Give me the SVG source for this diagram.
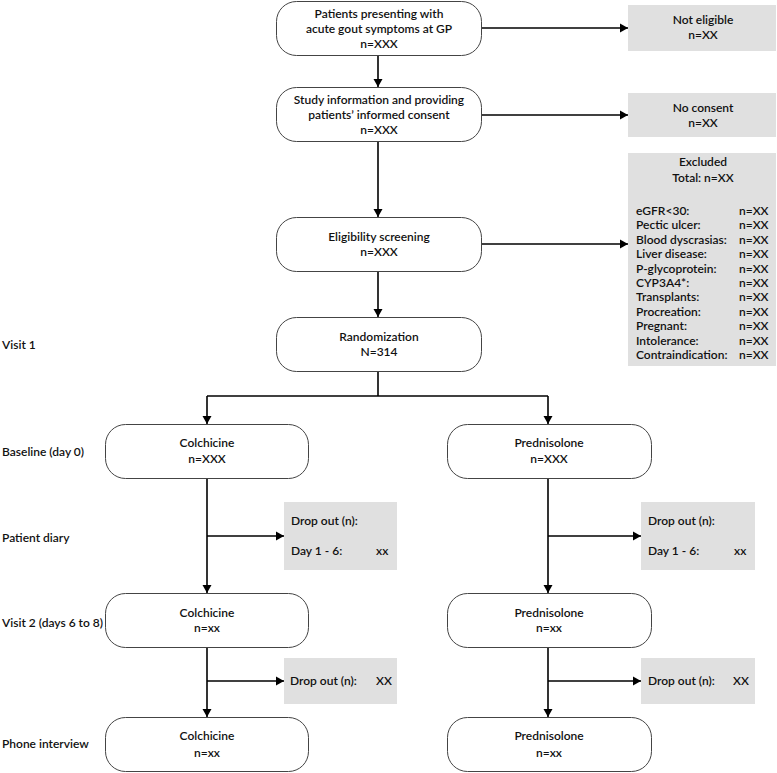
<svg xmlns="http://www.w3.org/2000/svg" width="777" height="773" viewBox="0 0 777 773">
<style>
text{font-family:Lato,"Liberation Sans",sans-serif;font-size:12px;font-weight:600;fill:#111}
.c{text-anchor:middle}
.node{fill:#fff;stroke:#444;stroke-width:1}
.grey{fill:#e0e0e0;stroke:none}
.conn{fill:none;stroke:#000;stroke-width:1.6}
</style>
<defs>
<marker id="ah" markerUnits="userSpaceOnUse" markerWidth="9" markerHeight="10" refX="8" refY="5" orient="auto">
<path d="M0,0.5 L8,5 L0,9.5 z" fill="#000"/>
</marker>
</defs>
<rect width="777" height="773" fill="#fff"/>

<g id="connectors">
<path class="conn" d="M378,55 V87" marker-end="url(#ah)"/>
<path class="conn" d="M481,28 H628" marker-end="url(#ah)"/>
<path class="conn" d="M378,141 V217" marker-end="url(#ah)"/>
<path class="conn" d="M481,115 H628" marker-end="url(#ah)"/>
<path class="conn" d="M481,244 H628" marker-end="url(#ah)"/>
<path class="conn" d="M378,272 V317" marker-end="url(#ah)"/>
<path class="conn" d="M378,372 V396"/>
<path class="conn" d="M207,396 H548"/>
<path class="conn" d="M207,396 V424" marker-end="url(#ah)"/>
<path class="conn" d="M548,396 V424" marker-end="url(#ah)"/>
<path class="conn" d="M207,479 V593" marker-end="url(#ah)"/>
<path class="conn" d="M207,536 H284" marker-end="url(#ah)"/>
<path class="conn" d="M548,479 V593" marker-end="url(#ah)"/>
<path class="conn" d="M548,536 H641" marker-end="url(#ah)"/>
<path class="conn" d="M207,648 V717" marker-end="url(#ah)"/>
<path class="conn" d="M207,681 H284" marker-end="url(#ah)"/>
<path class="conn" d="M548,648 V717" marker-end="url(#ah)"/>
<path class="conn" d="M548,681 H641" marker-end="url(#ah)"/>
</g>

<g id="labels">
<text x="2" y="349">Visit 1</text>
<text x="2" y="456">Baseline (day 0)</text>
<text x="2" y="542">Patient diary</text>
<text x="2" y="627">Visit 2 (days 6 to 8)</text>
<text x="2" y="748">Phone interview</text>
</g>

<g id="patients">
<rect class="node" x="276.5" y="1.5" width="205" height="54" rx="20"/>
<text class="c" x="379" y="18">Patients presenting with</text>
<text class="c" x="379" y="33">acute gout symptoms at GP</text>
<text class="c" x="379" y="48">n=XXX</text>
</g>
<g id="not-eligible">
<rect class="grey" x="628" y="5" width="148" height="46"/>
<text class="c" x="703" y="24">Not eligible</text>
<text class="c" x="703" y="39">n=XX</text>
</g>
<g id="study-info">
<rect class="node" x="276.5" y="87.5" width="205" height="54" rx="20"/>
<text class="c" x="379" y="104">Study information and providing</text>
<text class="c" x="379" y="119">patients’ informed consent</text>
<text class="c" x="379" y="134">n=XXX</text>
</g>
<g id="no-consent">
<rect class="grey" x="628" y="93" width="148" height="44"/>
<text class="c" x="703" y="112">No consent</text>
<text class="c" x="703" y="127">n=XX</text>
</g>
<g id="eligibility">
<rect class="node" x="276.5" y="217.5" width="205" height="54" rx="20"/>
<text class="c" x="379" y="241">Eligibility screening</text>
<text class="c" x="379" y="256">n=XXX</text>
</g>
<g id="excluded">
<rect class="grey" x="628" y="153" width="148" height="213"/>
<text class="c" x="703" y="166">Excluded</text>
<text class="c" x="703" y="182">Total: n=XX</text>
<text x="636" y="215">eGFR&lt;30:</text><text x="739" y="215">n=XX</text>
<text x="636" y="229">Pectic ulcer:</text><text x="739" y="229">n=XX</text>
<text x="636" y="244">Blood dyscrasias:</text><text x="739" y="244">n=XX</text>
<text x="636" y="258">Liver disease:</text><text x="739" y="258">n=XX</text>
<text x="636" y="273">P-glycoprotein:</text><text x="739" y="273">n=XX</text>
<text x="636" y="287">CYP3A4*:</text><text x="739" y="287">n=XX</text>
<text x="636" y="301">Transplants:</text><text x="739" y="301">n=XX</text>
<text x="636" y="316">Procreation:</text><text x="739" y="316">n=XX</text>
<text x="636" y="330">Pregnant:</text><text x="739" y="330">n=XX</text>
<text x="636" y="345">Intolerance:</text><text x="739" y="345">n=XX</text>
<text x="636" y="359">Contraindication:</text><text x="739" y="359">n=XX</text>
</g>
<g id="randomization">
<rect class="node" x="276.5" y="317.5" width="205" height="54" rx="20"/>
<text class="c" x="379" y="341">Randomization</text>
<text class="c" x="379" y="356">N=314</text>
</g>
<g id="colchicine-baseline">
<rect class="node" x="105.5" y="424.5" width="203" height="54" rx="20"/>
<text class="c" x="207" y="447">Colchicine</text>
<text class="c" x="207" y="463">n=XXX</text>
</g>
<g id="prednisolone-baseline">
<rect class="node" x="447.5" y="424.5" width="204" height="54" rx="20"/>
<text class="c" x="549" y="447">Prednisolone</text>
<text class="c" x="549" y="463">n=XXX</text>
</g>
<g id="dropout-colchicine-diary">
<rect class="grey" x="284" y="502" width="113" height="68"/>
<text x="291" y="525">Drop out (n):</text>
<text x="291" y="555">Day 1 - 6:</text>
<text x="376" y="555">xx</text>
</g>
<g id="dropout-prednisolone-diary">
<rect class="grey" x="641" y="502" width="114" height="68"/>
<text x="648" y="525">Drop out (n):</text>
<text x="648" y="555">Day 1 - 6:</text>
<text x="734" y="555">xx</text>
</g>
<g id="colchicine-visit2">
<rect class="node" x="105.5" y="593.5" width="203" height="54" rx="20"/>
<text class="c" x="207" y="617">Colchicine</text>
<text class="c" x="207" y="632">n=xx</text>
</g>
<g id="prednisolone-visit2">
<rect class="node" x="447.5" y="593.5" width="204" height="54" rx="20"/>
<text class="c" x="549" y="617">Prednisolone</text>
<text class="c" x="549" y="632">n=xx</text>
</g>
<g id="dropout-colchicine-visit2">
<rect class="grey" x="284" y="658" width="113" height="46"/>
<text x="290" y="685">Drop out (n):</text>
<text x="376" y="685">XX</text>
</g>
<g id="dropout-prednisolone-visit2">
<rect class="grey" x="641" y="658" width="114" height="46"/>
<text x="648" y="685">Drop out (n):</text>
<text x="733" y="685">XX</text>
</g>
<g id="colchicine-phone">
<rect class="node" x="105.5" y="717.5" width="203" height="54" rx="20"/>
<text class="c" x="207" y="740">Colchicine</text>
<text class="c" x="207" y="757">n=xx</text>
</g>
<g id="prednisolone-phone">
<rect class="node" x="447.5" y="717.5" width="204" height="54" rx="20"/>
<text class="c" x="549" y="740">Prednisolone</text>
<text class="c" x="549" y="757">n=xx</text>
</g>
</svg>
